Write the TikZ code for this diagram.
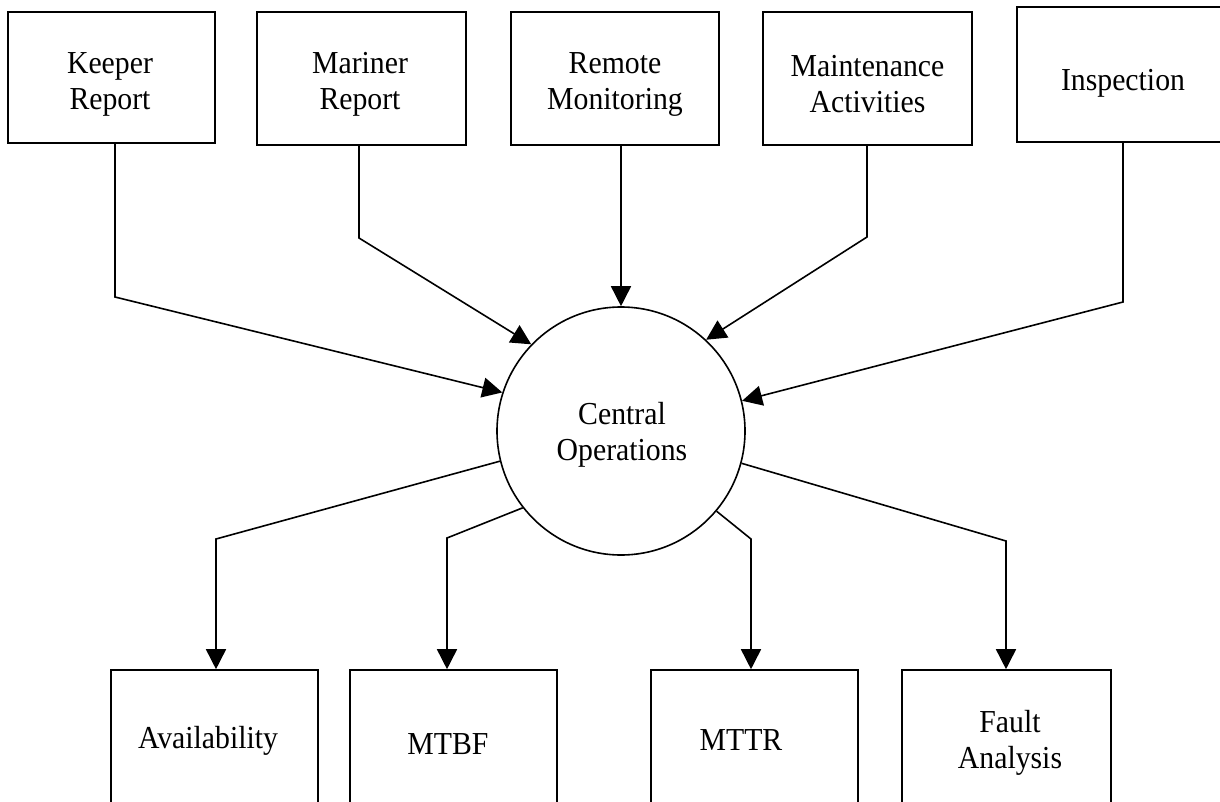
\documentclass[tikz,border=0pt]{standalone}
\usepackage{fontspec}
\setmainfont{Liberation Serif}[FakeStretch=0.93]
\usetikzlibrary{arrows.meta}
\begin{document}
\begin{tikzpicture}[x=0.75pt,y=-0.75pt,
  line width=1.2pt,
  box/.style={draw,rectangle,inner sep=0pt},
  lbl/.style={align=center,inner sep=0pt,font=\fontsize{24}{27}\selectfont},
  hub/.style={draw,circle,inner sep=0pt,minimum size=186pt},
  link/.style={-{Triangle[length=15pt,width=15pt]}}]
\useasboundingbox (0,0) rectangle (1220,802);
\clip (0,0) rectangle (1220,802);
\fill[white] (0,0) rectangle (1220,802);
% top boxes
\node[box,minimum width=155.25pt,minimum height=98.25pt] (kr) at (111.5,77.5) {};
\node[box,minimum width=156.75pt,minimum height=99.75pt] (mr) at (361.5,78.5) {};
\node[box,minimum width=156pt,minimum height=99.75pt] (rm) at (615,78.5) {};
\node[box,minimum width=156.75pt,minimum height=99.75pt] (ma) at (867.5,78.5) {};
\node[box,minimum width=159pt,minimum height=101.25pt] (in) at (1123,74.5) {};
\node[lbl] (krt) at (110,84) {Keeper\\Report};
\node[lbl] (mrt) at (360,84) {Mariner\\Report};
\node[lbl] (rmt) at (615,84) {Remote\\Monitoring};
\node[lbl] (mat) at (867.5,84) {Maintenance\\Activities};
\node[lbl] (int) at (1123,83.5) {Inspection};
% hub
\node[hub] (co) at (621,431) {};
\node[lbl] (cot) at (622,435) {Central\\Operations};
% bottom boxes
\node[box,minimum width=155.25pt,minimum height=105pt] (av) at (214.5,740) {};
\node[box,minimum width=155.25pt,minimum height=105pt] (mb) at (453.5,740) {};
\node[box,minimum width=155.25pt,minimum height=105pt] (mt) at (754.5,740) {};
\node[box,minimum width=156.75pt,minimum height=105pt] (fa) at (1006.5,740) {};
\node[lbl] (avt) at (208,741) {Availability};
\node[lbl] (mbt) at (448,744) {MTBF};
\node[lbl] (mtt) at (741,740) {MTTR};
\node[lbl] (fat) at (1010,743) {Fault\\Analysis};
% bends
\coordinate (kb) at (115,297);
\coordinate (mrb) at (359,238);
\coordinate (mab) at (867,237);
\coordinate (ib) at (1123,302);
\coordinate (ab) at (216,539);
\coordinate (mbb) at (447,538);
\coordinate (mtb) at (751,539);
\coordinate (fb) at (1006,541);
% incoming
\draw[link] (kr.south -| kb) -- (kb) -- (co.162.3);
\draw[link] (mr.south -| mrb) -- (mrb) -- (co.136.3);
\draw[link] (rm.south -| co.north) -- (co.north);
\draw[link] (ma.south -| mab) -- (mab) -- (co.47);
\draw[link] (in.south -| ib) -- (ib) -- (co.14.9);
% outgoing
\draw[link] (co.194.6) -- (ab) -- (ab |- av.north);
\draw[link] (co.218.2) -- (mbb) -- (mbb |- mb.north);
\draw[link] (co.320) -- (mtb) -- (mtb |- mt.north);
\draw[link] (co.345.2) -- (fb) -- (fb |- fa.north);
\end{tikzpicture}
\end{document}
